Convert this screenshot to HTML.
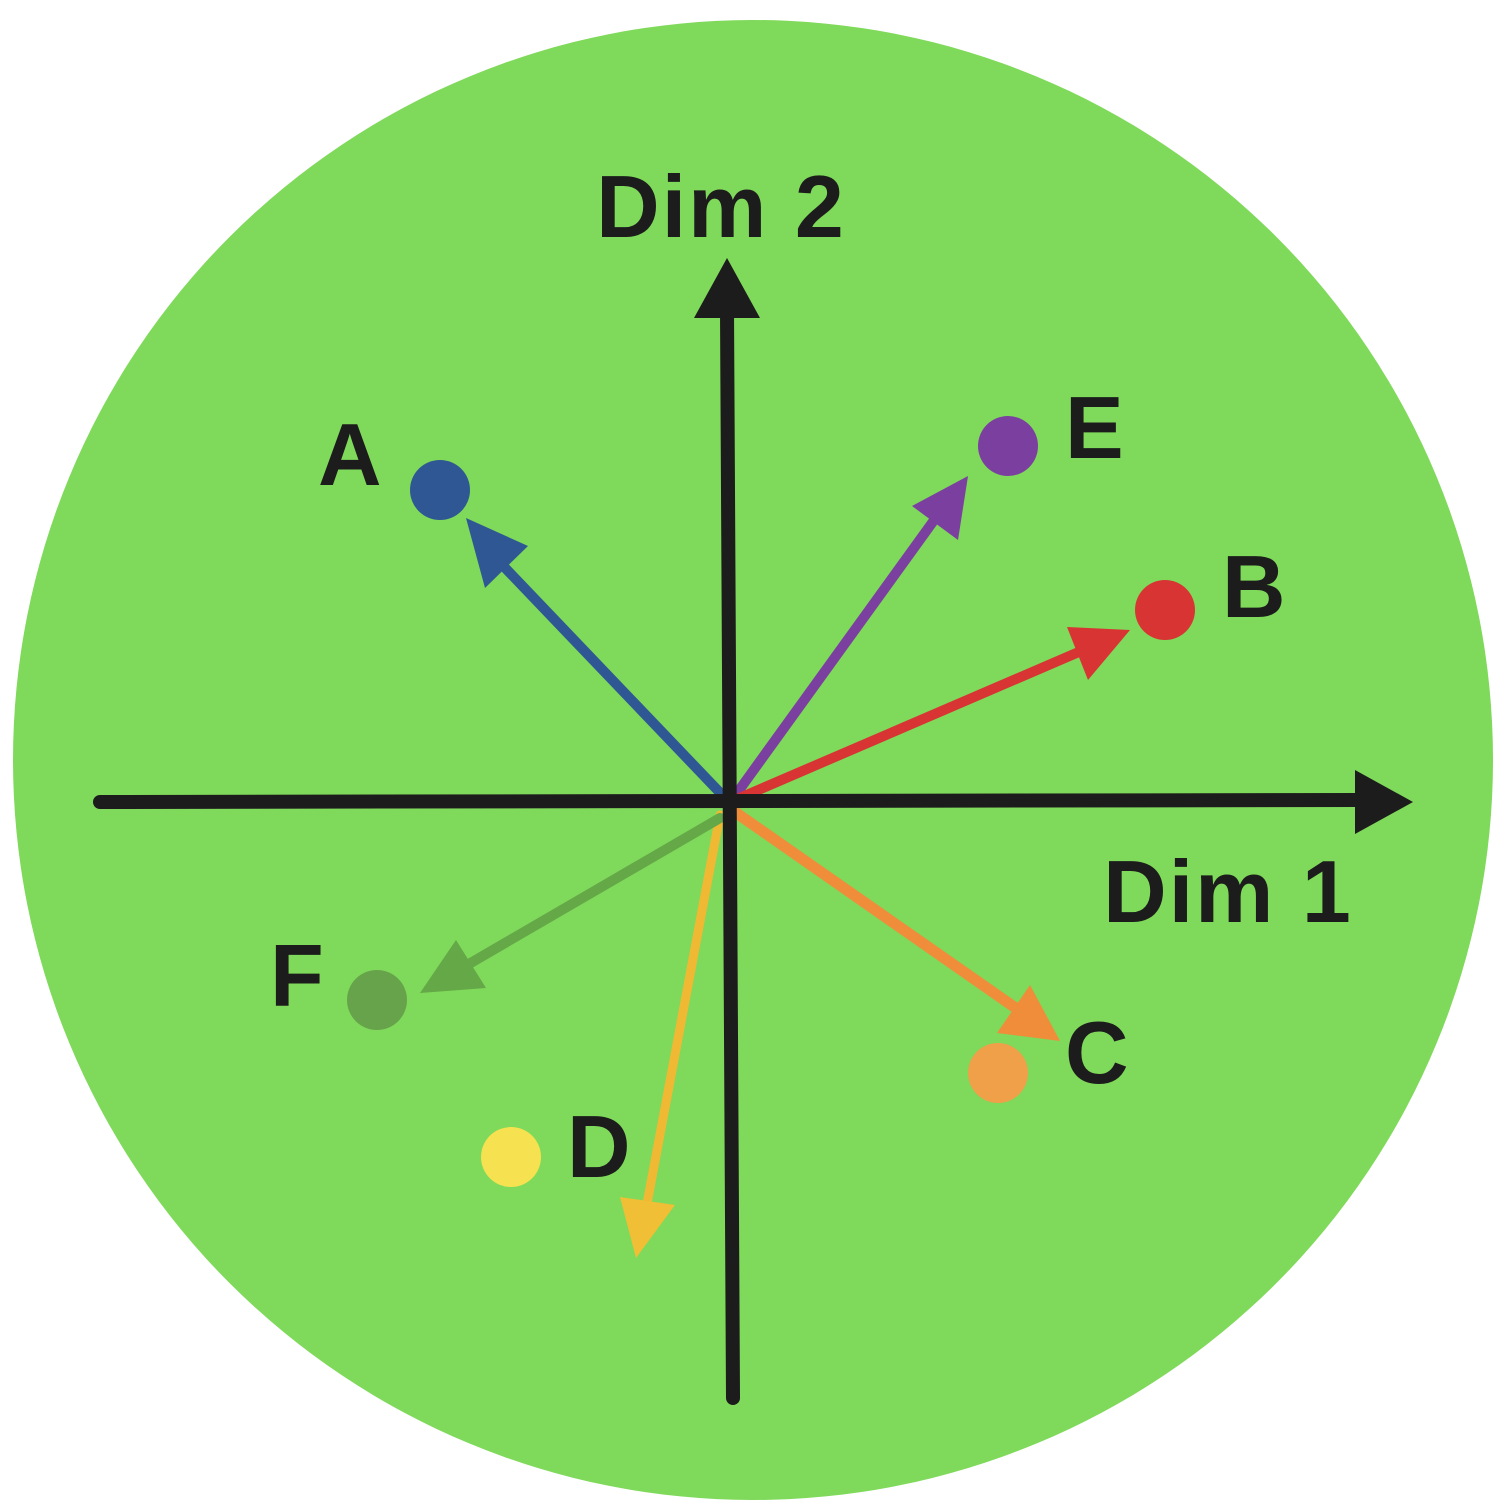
<!DOCTYPE html>
<html><head><style>html,body{margin:0;padding:0;background:#fff}svg{display:block}</style></head>
<body>
<svg width="1500" height="1500" viewBox="0 0 1500 1500" xmlns="http://www.w3.org/2000/svg">
<circle cx="753" cy="760" r="740" fill="#7fd95a"/>
<g stroke-linecap="round">
<line x1="727" y1="800" x2="488" y2="550" stroke="#2f5793" stroke-width="10"/>
<line x1="732" y1="800" x2="945" y2="505" stroke="#7b3fa0" stroke-width="10"/>
<line x1="735" y1="800" x2="1095" y2="645" stroke="#d83434" stroke-width="10"/>
<line x1="735" y1="812" x2="1030" y2="1018" stroke="#f08d3a" stroke-width="11"/>
<line x1="720" y1="815" x2="643" y2="1225" stroke="#f0b934" stroke-width="9"/>
<line x1="720" y1="818" x2="450" y2="975" stroke="#64a848" stroke-width="10"/>
</g>
<polygon points="466,518 528,546 485,588" fill="#2f5793"/>
<polygon points="968,476 958,540 912,506" fill="#7b3fa0"/>
<polygon points="1130,630 1067,627 1088,680" fill="#d83434"/>
<polygon points="1060,1041 997,1033 1030,985" fill="#f08d3a"/>
<polygon points="636,1258 620,1197 675,1205" fill="#f0bf35"/>
<polygon points="420,993 456,940 486,988" fill="#64a848"/>
<g stroke="#1c1c1c" stroke-width="14" stroke-linecap="round">
<line x1="100" y1="802" x2="1360" y2="800"/>
<line x1="733" y1="1398" x2="727" y2="310"/>
</g>
<polygon points="1413,802 1355,770 1355,834" fill="#1c1c1c"/>
<polygon points="727,258 694,318 760,318" fill="#1c1c1c"/>
<circle cx="440" cy="490" r="30" fill="#2f5793"/>
<circle cx="1008" cy="446" r="30" fill="#7b3fa0"/>
<circle cx="1165" cy="610" r="30" fill="#d83434"/>
<circle cx="998" cy="1073" r="30" fill="#efa048"/>
<circle cx="511" cy="1157" r="30" fill="#f6e150"/>
<circle cx="377" cy="1000" r="30" fill="#67a34a"/>
<g font-family="Liberation Sans, sans-serif" font-weight="bold" fill="#1c1c1c" font-size="88">
<text x="721" y="237" text-anchor="middle" letter-spacing="2">Dim 2</text>
<text x="1228" y="922" text-anchor="middle" letter-spacing="2">Dim 1</text>
<text x="318" y="485">A</text>
<text x="1065" y="458">E</text>
<text x="1222" y="617">B</text>
<text x="1065" y="1083">C</text>
<text x="567" y="1177">D</text>
<text x="270" y="1006">F</text>
</g>
</svg>
</body></html>
